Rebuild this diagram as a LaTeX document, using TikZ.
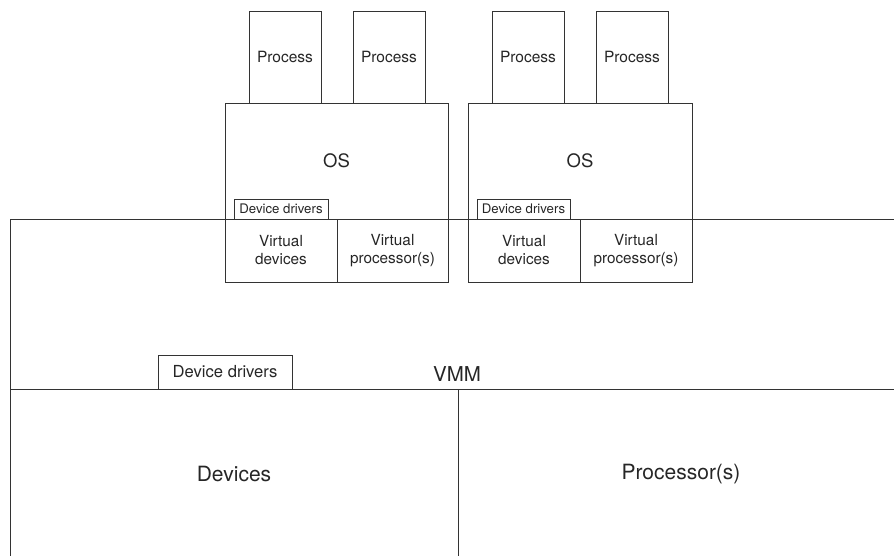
\documentclass[tikz,border=0pt]{standalone}
\usepackage{fontspec}
\setmainfont{TeX Gyre Heros}
\begin{document}
\begin{tikzpicture}[
        x=1pt, y=-1pt,
        line width=0.9pt, color=black!80,
        box/.style={draw=black!80, anchor=north west, inner sep=0pt, outer sep=0pt, align=center, text=black!85},
        procbox/.style={box, minimum width=72pt, minimum height=92pt, font=\fontsize{15.5}{18}\selectfont},
        osbox/.style={box, minimum height=116pt, font=\fontsize{18.5}{20}\selectfont},
        vbox/.style={box, minimum height=63pt, font=\fontsize{15.3}{18}\selectfont},
        drvbox/.style={box, minimum height=20pt, font=\fontsize{13.2}{14}\selectfont},
        hwbox/.style={box, minimum height=170pt, font=\fontsize{21}{23}\selectfont}
    ]

        \useasboundingbox (0,0) rectangle (894,556);
        \clip (0,0) rectangle (894,556);

        % 1. VMM layer (runs off the right edge)
        \node[box, minimum width=890pt, minimum height=170pt] (vmm) at (10,219) {};
        \node[text=black!85, font=\fontsize{20.5}{22}\selectfont] (vmmlabel) at (457,374) {VMM};
        \node[box, minimum width=134pt, minimum height=34pt, font=\fontsize{16.6}{18}\selectfont] (ddrvm) at (158,355) {Device drivers};

        % 2. Real hardware
        \node[hwbox, minimum width=448pt] (devices) at (10,389) {Devices};
        \node[hwbox, minimum width=446pt] (processors) at (458,389) {Processor(s)};

        % 3. Guest OS (left)
        \node[osbox, minimum width=223pt] (osa) at (225,103) {OS};
        \node[drvbox, minimum width=94pt] (ddrva) at (234,199) {Device drivers};
        \node[vbox, minimum width=112pt] (vdeva) at (225,219) {Virtual\\devices};
        \node[vbox, minimum width=111pt] (vproca) at (337,219) {Virtual\\processor(s)};
        \node[procbox] (proca) at (249,11) {Process};
        \node[procbox] (procb) at (353,11) {Process};

        % 4. Guest OS (right)
        \node[osbox, minimum width=224pt] (osb) at (468,103) {OS};
        \node[drvbox, minimum width=93pt] (ddrvb) at (477,199) {Device drivers};
        \node[vbox, minimum width=112pt] (vdevb) at (468,219) {Virtual\\devices};
        \node[vbox, minimum width=112pt] (vprocb) at (580,219) {Virtual\\processor(s)};
        \node[procbox] (procc) at (492,11) {Process};
        \node[procbox] (procd) at (596,11) {Process};

    \end{tikzpicture}
\end{document}
